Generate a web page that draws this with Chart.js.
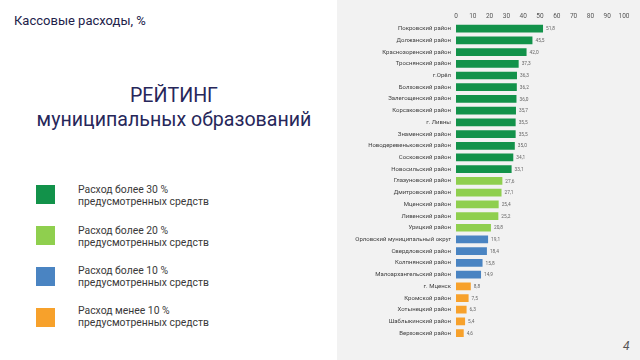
<!DOCTYPE html>
<html><head><meta charset="utf-8">
<script src="https://cdn.jsdelivr.net/npm/chart.js@4"></script>
<style>
html,body{margin:0;padding:0;width:640px;height:360px;overflow:hidden;background:#fff;font-family:Roboto,"Noto Sans",sans-serif;}
#left{position:absolute;left:0;top:0;width:337px;height:360px;background:#fff;}
#right{position:absolute;left:337px;top:0;width:303px;height:360px;background:#f2f2f2;}
#t1{position:absolute;left:14px;top:13px;font-size:13px;color:#22224a;white-space:nowrap;}
#t2{position:absolute;left:0;width:348px;top:84px;text-align:center;font-size:19.6px;line-height:24px;color:#27275a;}
.lg{position:absolute;left:36px;width:19px;height:19px;}
.lt{position:absolute;left:78px;font-size:10.4px;line-height:12px;color:#3a3a3a;white-space:nowrap;}
#pg{position:absolute;left:623px;top:339px;font-size:12px;color:#555;font-style:italic;}
canvas{position:absolute;left:338px;top:0;}
</style></head>
<body>
<div id="left"></div><div id="right"></div>
<div id="t1">Кассовые расходы, %</div>
<div id="t2">РЕЙТИНГ<br>муниципальных образований</div>
<div class="lg" style="top:185px;background:#12924a"></div>
<div class="lt" style="top:184px">Расход более 30 %<br>предусмотренных средств</div>
<div class="lg" style="top:226px;background:#8fcf4e"></div>
<div class="lt" style="top:225px">Расход более 20 %<br>предусмотренных средств</div>
<div class="lg" style="top:267px;background:#4a84c2"></div>
<div class="lt" style="top:265px">Расход более 10 %<br>предусмотренных средств</div>
<div class="lg" style="top:308px;background:#f7a12b"></div>
<div class="lt" style="top:305px">Расход менее 10 %<br>предусмотренных средств</div>
<div id="pg">4</div>
<canvas id="c" width="302" height="360"></canvas>
<script>
const categories = ["Покровский район","Должанский район","Краснозоренский район","Троснянский район","г.Орёл","Болховский район","Залегощенский район","Корсаковский район","г. Ливны","Знаменский район","Новодеревеньковский район","Сосковский район","Новосильский район","Глазуновский район","Дмитровский район","Мценский район","Ливенский район","Урицкий район","Орловский муниципальный округ","Свердловский район","Колпнянский район","Малоархангельский район","г. Мценск","Кромской район","Хотынецкий район","Шаблыкинский район","Верховский район"];
const values = [51.8,45.5,42.0,37.3,36.3,36.2,36.0,35.7,35.5,35.5,35.0,34.1,33.1,27.6,27.1,25.4,25.2,20.8,19.1,18.4,15.8,14.9,8.8,7.5,6.3,5.4,4.6];
const xTicks = [0,10,20,30,40,50,60,70,80,90,100];
const groupColors = {g30:"#12924a", g20:"#8fcf4e", g10:"#4a84c2", g0:"#f7a12b"};
const barColors = values.map(v => v > 30 ? groupColors.g30 : v > 20 ? groupColors.g20 : v > 10 ? groupColors.g10 : groupColors.g0);

const valueLabels = {
  id:'valueLabels',
  afterDatasetsDraw(chart){
    const ctx = chart.ctx;
    const meta = chart.getDatasetMeta(0);
    ctx.save();
    ctx.font = '4.8px Roboto, sans-serif';
    ctx.fillStyle = '#666';
    ctx.textBaseline = 'middle';
    ctx.textAlign = 'left';
    meta.data.forEach((bar,i) => {
      ctx.fillText(values[i].toFixed(1).replace('.',','), bar.x + 3, bar.y + 0.5);
    });
    ctx.restore();
  }
};

new Chart(document.getElementById('c'), {
  type:'bar',
  data:{labels:categories, datasets:[{data:values, backgroundColor:barColors, barPercentage:0.66, categoryPercentage:1}]},
  options:{
    indexAxis:'y', responsive:false, animation:false,
    layout:{padding:{top:9,bottom:21,left:0,right:16}},
    plugins:{legend:{display:false}, tooltip:{enabled:false}},
    scales:{
      x:{position:'top', min:0, max:100, grid:{display:false, drawTicks:false}, border:{display:false},
         afterBuildTicks(axis){ axis.ticks = xTicks.map(v=>({value:v})); },
         ticks:{font:{size:6.5, family:'Roboto, sans-serif'}, color:'#555', padding:3, maxRotation:0}},
      y:{grid:{display:false, drawTicks:false}, border:{display:false},
         afterFit(axis){ axis.width = 118; },
         ticks:{font:{size:6, family:'Roboto, sans-serif'}, color:'#404040', padding:5, autoSkip:false}}
    }
  },
  plugins:[valueLabels]
});
</script>
</body></html>
